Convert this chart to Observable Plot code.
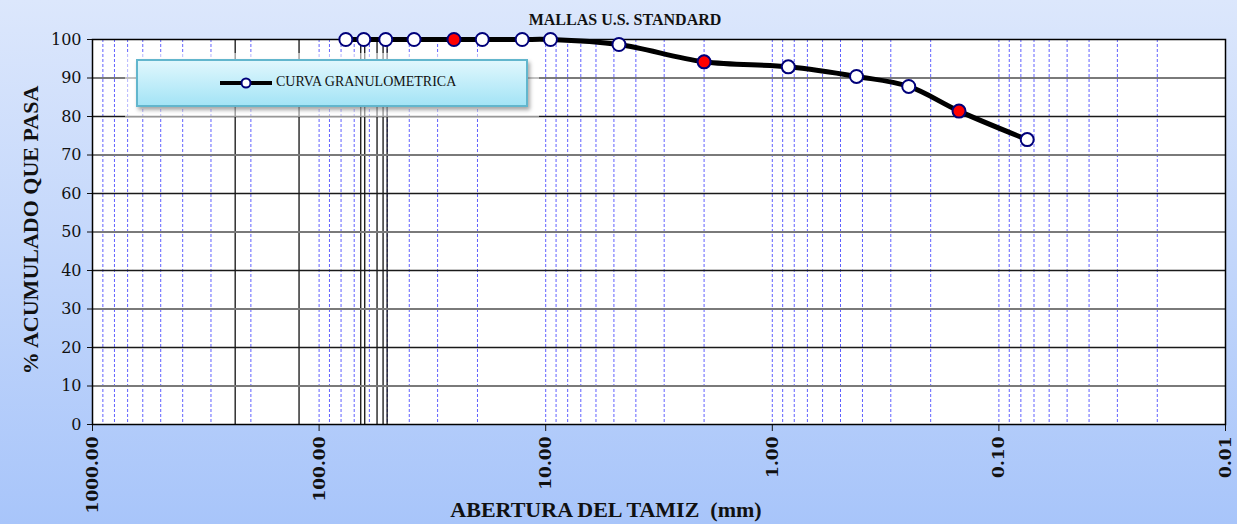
<!DOCTYPE html>
<html><head><meta charset="utf-8">
<script src="https://cdn.jsdelivr.net/npm/d3@7"></script>
<script src="https://cdn.jsdelivr.net/npm/@observablehq/plot@0.6"></script>
<style>
body{margin:0;}
#wrap{position:relative;width:1237px;height:524px;background:linear-gradient(#dce7fc,#a8c5fa);overflow:hidden;}
#wrap svg{position:absolute;left:0;top:0;}
#fade{position:absolute;left:125px;top:53px;width:414px;height:64px;background:rgba(255,255,255,0.55);}
#legend{position:absolute;left:136px;top:59px;width:388px;height:44px;border:2px solid #62b6cd;background:linear-gradient(#e0f7fd,#a4e4f6);box-shadow:2px 3px 4px rgba(0,0,0,0.35);}
#legend svg{position:absolute;left:80px;top:14px;}
#legend span{position:absolute;left:138px;top:13px;font-family:"Liberation Serif",serif;font-size:14px;color:#111;white-space:nowrap;}
</style></head><body><div id="wrap"></div>
<script>
// Sieve openings (mm) and cumulative percent passing
const sizes = [76.2, 63.5, 50.8, 38.1, 25.4, 19.05, 12.7, 9.525, 4.75, 2.00, 0.85, 0.425, 0.25, 0.15, 0.075];
const passing = [100, 100, 100, 100, 100, 100, 100, 100, 98.7, 94.2, 92.9, 90.4, 87.8, 81.4, 74.0];
const highlighted = [25.4, 2.00, 0.15];
const xTicks = [1000, 100, 10, 1, 0.1, 0.01];
const yTicks = [0, 10, 20, 30, 40, 50, 60, 70, 80, 90, 100];
const blackRules = [234.6, 122.6, 65.5, 62.9, 55.5, 52.2, 50.1];
const title = "MALLAS U.S. STANDARD";
const xLabel = "ABERTURA DEL TAMIZ  (mm)";
const yLabel = "% ACUMULADO QUE PASA";
const legendLabel = "CURVA GRANULOMETRICA";

const data = sizes.map((s, i) => ({size: s, pass: passing[i], hi: highlighted.includes(s)}));
// log minor grid: 1..9 x each decade
const minor = [];
for (let e = -2; e < 3; e++) for (let k = 1; k <= 9; k++) minor.push(k * Math.pow(10, e));
const gridMinor = minor.filter(v => v > 0.01 && v < 1000);

const chart = Plot.plot({
  width: 1237, height: 524,
  marginLeft: 92, marginRight: 12, marginTop: 39, marginBottom: 100,
  style: {background: "transparent", fontFamily: "DejaVu Serif", overflow: "visible", color: "#111"},
  x: {type: "log", domain: [1000, 0.01]},
  y: {domain: [0, 100]},
  marks: [
    Plot.frame({fill: "white", stroke: null}),
    Plot.ruleX(gridMinor, {stroke: "#3a3aff", strokeDasharray: "3,2", strokeWidth: 1, strokeOpacity: 0.8}),
    Plot.ruleX(blackRules, {stroke: "#111", strokeWidth: 1.3}),
    Plot.ruleY(yTicks.filter(v => v > 0 && v < 100 && v % 20 === 10), {stroke: "#7a7a7a", strokeWidth: 2}),
    Plot.ruleY(yTicks.filter(v => v > 0 && v < 100 && v % 20 === 0), {stroke: "#1a1a1a", strokeWidth: 1.3}),
    Plot.axisY({ticks: yTicks, tickSize: 5, tickPadding: 6, fontSize: 16, label: null}),
    Plot.axisX({ticks: xTicks, tickFormat: d => d.toFixed(2), tickRotate: -90, tickSize: 7, tickPadding: 5, fontSize: 17, fontWeight: "bold", label: null}),
    Plot.frame({stroke: "black", strokeWidth: 1.5}),
    Plot.line(data, {x: "size", y: "pass", curve: "catmull-rom", stroke: "black", strokeWidth: 5}),
    Plot.dot(data.filter(d => !d.hi), {x: "size", y: "pass", r: 6.5, fill: "white", stroke: "#00007a", strokeWidth: 2}),
    Plot.dot(data.filter(d => d.hi), {x: "size", y: "pass", r: 6.5, fill: "red", stroke: "#00007a", strokeWidth: 2}),
    Plot.text([title], {frameAnchor: "top", dx: -34, dy: -26, fontWeight: "bold", fontSize: 16, fontFamily: "Liberation Serif"}),
    Plot.text([xLabel], {frameAnchor: "bottom", dx: -53, dy: 92, fontWeight: "bold", fontSize: 22, fontFamily: "Liberation Serif"}),
    Plot.text([yLabel], {frameAnchor: "left", textAnchor: "middle", dx: -62, dy: -2, rotate: -90, fontWeight: "bold", fontSize: 22, fontFamily: "Liberation Serif"})
  ]
});
const wrap = document.getElementById("wrap");
wrap.appendChild(chart);
const fade = document.createElement("div"); fade.id = "fade"; wrap.appendChild(fade);
const leg = document.createElement("div"); leg.id = "legend";
leg.innerHTML = `<svg width="56" height="16"><line x1="2" y1="8" x2="54" y2="8" stroke="black" stroke-width="4"/><circle cx="28" cy="8" r="4.5" fill="white" stroke="#00007a" stroke-width="2"/></svg><span>${legendLabel}</span>`;
wrap.appendChild(leg);
</script></body></html>
